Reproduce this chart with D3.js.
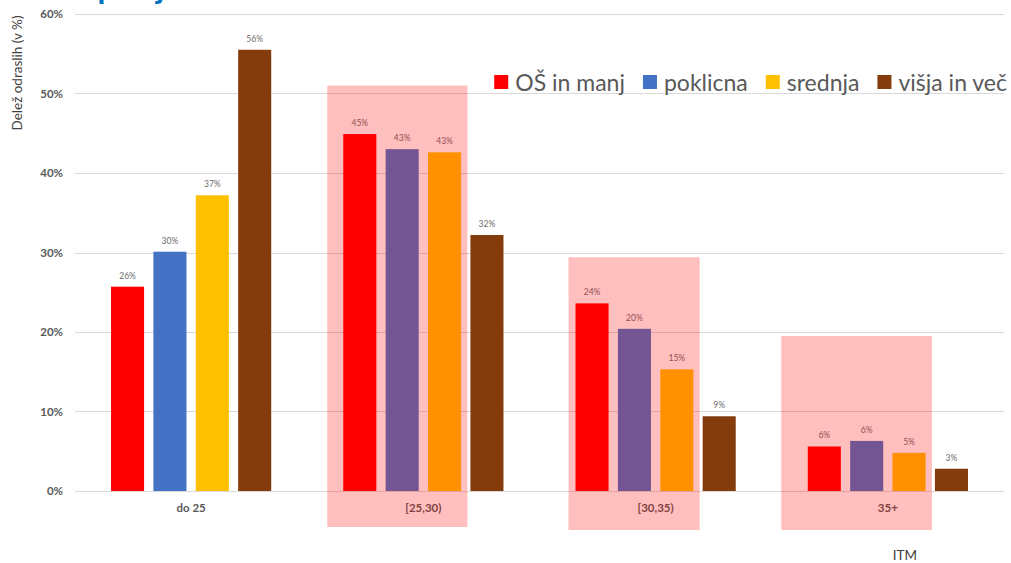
<!DOCTYPE html>
<html>
<head>
<meta charset="utf-8">
<script src="https://cdn.jsdelivr.net/npm/d3@7"></script>
<style>
  html, body { margin: 0; padding: 0; background: #fff; }
  svg { display: block; }
  text { font-family: Lato, "Open Sans", sans-serif; }
</style>
</head>
<body>
<svg id="chart" width="1011" height="563"></svg>
<script>
// Age groups (x categories) and education levels (series)
const categories = ["do 25", "[25,30)", "[30,35)", "35+"];
const seriesNames = ["OŠ in manj", "poklicna", "srednja", "višja in več"];

// Share of adults (fraction) per age group, one array per education level
const osInManj   = [0.257, 0.449, 0.236, 0.056];
const poklicna   = [0.301, 0.430, 0.204, 0.063];
const srednja    = [0.372, 0.426, 0.153, 0.048];
const visjaInVec = [0.555, 0.322, 0.094, 0.028];
const seriesValues = [osInManj, poklicna, srednja, visjaInVec];

const yTicks = [0, 0.1, 0.2, 0.3, 0.4, 0.5, 0.6];

// Highlighted age groups and the value at which each highlight box ends
const highlightCats = ["[25,30)", "[30,35)", "35+"];
const highlightTops = [0.51, 0.294, 0.195];

const colors = ["#FF0000", "#4472C4", "#FFC000", "#843C0C"];

const svg = d3.select("#chart");
const W = 1011, H = 563;
const margin = { left: 75, right: 7, top: 14, bottom: 72 };

const x0 = d3.scaleBand()
  .domain(categories)
  .range([margin.left, W - margin.right])
  .paddingInner(0).paddingOuter(0);

const x1 = d3.scaleBand()
  .domain(seriesNames)
  .range([0, x0.bandwidth()])
  .paddingInner(0.22).paddingOuter(0.85);

const y = d3.scaleLinear()
  .domain([0, 0.6])
  .range([H - margin.bottom, margin.top]);

// Title (runs above the top edge of the canvas)
svg.append("text")
  .attr("x", 62).attr("y", -1)
  .attr("font-size", 32).attr("font-weight", 700)
  .attr("fill", "#0070C0")
  .text("Zaposljivost");

// Horizontal gridlines
svg.append("g")
  .selectAll("line")
  .data(yTicks)
  .join("line")
  .attr("x1", margin.left).attr("x2", W - margin.right)
  .attr("y1", d => Math.round(y(d)) + 0.5).attr("y2", d => Math.round(y(d)) + 0.5)
  .attr("stroke", "#D9D9D9").attr("stroke-width", 1);

// Y axis tick labels
const yAxis = d3.axisLeft(y).tickValues(yTicks).tickFormat(d3.format(".0%")).tickSize(0).tickPadding(0);
const gy = svg.append("g").attr("transform", `translate(63,0)`).call(yAxis);
gy.select(".domain").remove();
gy.selectAll("text")
  .attr("font-family", "Lato, 'Open Sans', sans-serif")
  .attr("font-size", 11.5).attr("font-weight", 700)
  .attr("fill", "#595959");

// Y axis title
svg.append("text")
  .attr("transform", "translate(22,73) rotate(-90)")
  .attr("text-anchor", "middle")
  .attr("font-size", 13.5)
  .attr("fill", "#404040")
  .text("Delež odraslih (v %)");

// Bars
const fmt = d3.format(".0%");
const groups = svg.append("g")
  .selectAll("g")
  .data(categories)
  .join("g")
  .attr("transform", d => `translate(${x0(d)},0)`);

groups.selectAll("rect")
  .data((c, ci) => seriesNames.map((s, si) => ({ s, si, v: seriesValues[si][ci] })))
  .join("rect")
  .attr("x", d => x1(d.s))
  .attr("width", x1.bandwidth())
  .attr("y", d => y(d.v))
  .attr("height", d => y(0) - y(d.v))
  .attr("fill", d => colors[d.si]);

groups.selectAll("text")
  .data((c, ci) => seriesNames.map((s, si) => ({ s, si, v: seriesValues[si][ci] })))
  .join("text")
  .attr("x", d => x1(d.s) + x1.bandwidth() / 2)
  .attr("y", d => y(d.v) - 8)
  .attr("text-anchor", "middle")
  .attr("font-size", 8.5)
  .attr("fill", "#6b6b6b")
  .text(d => fmt(d.v));

// Category labels
svg.append("g")
  .selectAll("text")
  .data(categories)
  .join("text")
  .attr("x", d => x0(d) + x0.bandwidth() / 2)
  .attr("y", y(0) + 21)
  .attr("text-anchor", "middle")
  .attr("font-size", 11.5).attr("font-weight", 700)
  .attr("fill", "#595959")
  .text(d => d);

// Axis title under the categories
svg.append("text")
  .attr("x", 905).attr("y", 560)
  .attr("text-anchor", "middle")
  .attr("font-size", 13.5)
  .attr("fill", "#404040")
  .text("ITM");

// Translucent highlight boxes over the selected age groups
const boxLeft = [20 / 232.25, 29 / 232.25, 9.5 / 232.25];
const boxBottom = [527, 530, 530];
svg.append("g")
  .selectAll("rect")
  .data(highlightCats)
  .join("rect")
  .attr("x", (d, i) => x0(d) + boxLeft[i] * x0.bandwidth())
  .attr("width", (d, i) => x0(d) + x1("višja in več") - 3 - (x0(d) + boxLeft[i] * x0.bandwidth()))
  .attr("y", (d, i) => y(highlightTops[i]))
  .attr("height", (d, i) => boxBottom[i] - y(highlightTops[i]))
  .attr("fill", "#FF0000")
  .attr("fill-opacity", 0.25);

// Legend (top right)
const legend = svg.append("g").attr("transform", "translate(0,83)");
const legendItems = legend.selectAll("g")
  .data(seriesNames)
  .join("g");
legendItems.append("rect")
  .attr("y", -8).attr("width", 14).attr("height", 14)
  .attr("fill", (d, i) => colors[i]);
legendItems.append("text")
  .attr("x", 21).attr("y", 7.5)
  .attr("font-size", 23)
  .attr("fill", "#595959")
  .text(d => d);
// lay out items right-aligned ending near the page edge
let widths = [];
legendItems.each(function() { widths.push(this.getBBox().width); });
const gap = 18;
const total = d3.sum(widths) + gap * (widths.length - 1);
let cx = 1007 - total;
legendItems.attr("transform", (d, i) => {
  const t = `translate(${cx},0)`;
  cx += widths[i] + gap;
  return t;
});
</script>
</body>
</html>
